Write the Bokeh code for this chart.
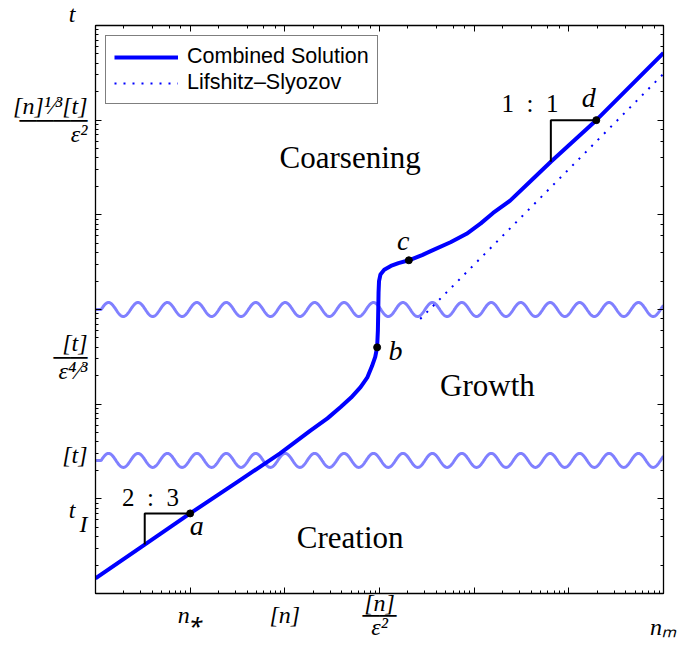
import numpy as np
from bokeh.plotting import figure
from bokeh.models import (Label, Legend, LegendItem, LogAxis, Range1d, FixedTicker,
                          CustomJSTickFormatter)
from bokeh.embed import file_html
from bokeh.resources import INLINE

# ---------------- data (log10 of n and t) ----------------
curve_logn = [0.0, 0.52, 1.0, 1.5, 1.95, 2.27, 2.45, 2.59, 2.70, 2.80, 2.87, 2.92,
              2.955, 2.975, 2.983, 2.987, 2.99, 2.995, 3.01, 3.05, 3.12, 3.20,
              3.31, 3.45, 3.57, 3.75, 3.92, 4.07, 4.20, 4.38, 4.60, 4.81, 5.29, 6.0]
curve_logt = [0.16, 0.517, 0.846, 1.18, 1.48, 1.72, 1.85, 1.97, 2.07, 2.18, 2.28, 2.40,
              2.50, 2.60, 2.78, 3.00, 3.18, 3.30, 3.37, 3.42, 3.46, 3.49,
              3.52, 3.575, 3.63, 3.71, 3.80, 3.91, 4.02, 4.15, 4.36, 4.56, 5.00, 5.71]

ls_logn = [3.43, 6.0]          # Lifshitz-Slyozov asymptote
ls_logt = [2.90, 5.49]

pt_logn = [1.0, 2.975, 3.31, 5.29]
pt_logt = [0.846, 2.60, 3.52, 5.00]
pt_names = ["a", "b", "c", "d"]

tri1_logn = [0.52, 0.52, 1.0]
tri1_logt = [0.517, 0.846, 0.846]
tri2_logn = [4.81, 4.81, 5.29]
tri2_logt = [4.56, 5.00, 5.00]

wave_levels = [3.0, 1.406]     # region boundaries (log10 t)
WAVE_AMP = 0.074
WAVE_PERIOD = 0.311
WAVE_START = 0.06

region_names = ["Coarsening", "Growth", "Creation"]
region_logn = [2.69, 4.14, 2.69]
region_logt = [4.61, 2.20, 0.59]

# tick labels (positions in log10 units)
xlab_logn = [1.0, 2.0, 3.0, 5.9996]
xlab_text = ["\nn\u204e", "\n[n]", "[n]\n\u2500\u2500\n\u03b5\u00b2", "\n\nn\u2098"]
ylab_logt = [0.81, 1.46, 2.5, 5.0, 5.99999]
ylab_text = ["t\u2002\nI", "[t]", "[t]\n\u2500\u2500\n\u03b5\u2074\u2044\u00b3",
             "[n]\u00b9\u2044\u00b3[t]\n\u2500\u2500\u2500\u2500\n\u03b5\u00b2",
             "t\u2002\n\n"]

BLUE = "#0000ff"
LBLUE = "#8080ff"
SERIF = "Liberation Serif"

p = figure(frame_width=568, frame_height=568, x_axis_type="log", y_axis_type="log",
           x_range=Range1d(1, 1e6), y_range=Range1d(1, 1e6),
           output_backend="svg", toolbar_location=None,
           min_border_left=95, min_border_right=34, min_border_top=25, min_border_bottom=52)
p.add_layout(LogAxis(), "right")
p.add_layout(LogAxis(), "above")
p.grid.visible = False
p.outline_line_color = "black"
for ax in p.axis:
    ax.formatter = CustomJSTickFormatter(code="return ''")
    ax.major_tick_in = 6
    ax.major_tick_out = 0
    ax.minor_tick_in = 3
    ax.minor_tick_out = 0
    ax.axis_line_color = "black"
    ax.axis_line_width = 1.3
    ax.major_tick_line_color = "black"
    ax.minor_tick_line_color = "black"
    ax.major_label_standoff = 0


def label_axis(ticks, texts, side, standoff, line_height):
    ax = LogAxis(ticker=FixedTicker(ticks=[10.0 ** v for v in ticks], minor_ticks=[]),
                 formatter=CustomJSTickFormatter(args=dict(labels=texts),
                                                 code="return labels[index]"),
                 axis_line_color=None, major_tick_line_color=None,
                 minor_tick_line_color=None, major_tick_in=0, major_tick_out=0,
                 minor_tick_in=0, minor_tick_out=0, major_label_standoff=standoff,
                 major_label_text_font=SERIF, major_label_text_font_style="italic",
                 major_label_text_font_size="24px", major_label_text_color="black",
                 major_label_text_line_height=line_height)
    p.add_layout(ax, side)


label_axis(xlab_logn, xlab_text, "below", -4, 0.47)
label_axis(ylab_logt, ylab_text, "left", 8, 0.53)


def pw(a):
    return [10.0 ** v for v in a]


# wavy region boundaries
wx = np.linspace(0, 6, 1500)
ph = np.clip(wx - WAVE_START, 0, None)
for lev in wave_levels:
    wy = lev + WAVE_AMP * np.sin(2 * np.pi * ph / WAVE_PERIOD)
    p.line(10 ** wx, 10 ** wy, line_color=LBLUE, line_width=3)

r_ls = p.line(pw(ls_logn), pw(ls_logt), line_color=BLUE, line_width=2, line_dash="2 7")
r_main = p.line(pw(curve_logn), pw(curve_logt), line_color=BLUE, line_width=4)

p.line(pw(tri1_logn), pw(tri1_logt), line_color="black", line_width=2)
p.line(pw(tri2_logn), pw(tri2_logt), line_color="black", line_width=2)
p.scatter(pw(pt_logn), pw(pt_logt), size=7, color="black")

legend = Legend(items=[LegendItem(label="Combined Solution", renderers=[r_main]),
                       LegendItem(label="Lifshitz\u2013Slyozov", renderers=[r_ls])],
                location="top_left", margin=10, padding=8, spacing=1,
                glyph_width=64, glyph_height=22, label_height=22, label_standoff=9,
                label_text_font="Liberation Sans", label_text_font_size="21.5px",
                label_text_color="black",
                border_line_color="black", border_line_width=1,
                background_fill_alpha=1)
p.add_layout(legend)


def lab(lx, ly, text, size, style="normal"):
    p.add_layout(Label(x=10 ** lx, y=10 ** ly, text=text, text_font=SERIF,
                       text_font_size=f"{size}px", text_font_style=style,
                       text_align="center", text_baseline="middle", text_color="black"))


# region labels
for nm, lx, ly in zip(region_names, region_logn, region_logt):
    lab(lx, ly, nm, 31)

# point labels
lab(1.07, 0.72, "a", 28, "italic")
lab(3.17, 2.57, "b", 28, "italic")
lab(3.25, 3.73, "c", 28, "italic")
lab(5.21, 5.24, "d", 28, "italic")
lab(0.58, 1.015, "2\u2002:\u20023", 25)
lab(4.59, 5.18, "1\u2002:\u20021", 25)

open("out.html", "w").write(file_html(p, INLINE))
